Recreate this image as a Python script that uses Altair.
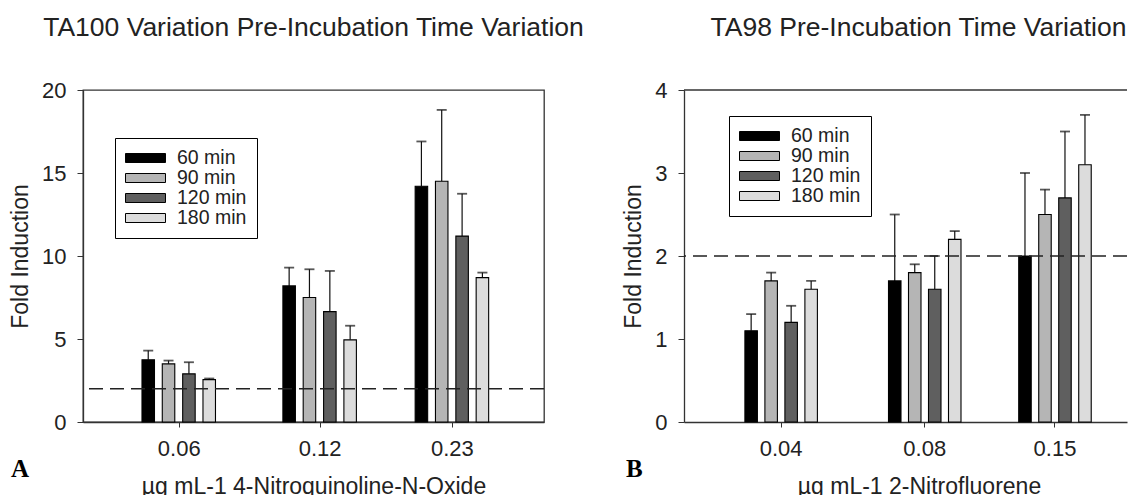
import altair as alt
import pandas as pd

times = ["60 min", "90 min", "120 min", "180 min"]
colors = ["#000000", "#b5b5b5", "#5f5f5f", "#dcdcdc"]

# Panel A: TA100, 4-Nitroquinoline-N-Oxide
doses_a = [0.06, 0.12, 0.23]
mean_a = {
    "60 min": [3.75, 8.2, 14.2],
    "90 min": [3.5, 7.5, 14.5],
    "120 min": [2.9, 6.65, 11.2],
    "180 min": [2.55, 4.95, 8.7],
}
sd_a = {
    "60 min": [0.55, 1.1, 2.7],
    "90 min": [0.2, 1.7, 4.3],
    "120 min": [0.7, 2.45, 2.55],
    "180 min": [0.07, 0.85, 0.3],
}

# Panel B: TA98, 2-Nitrofluorene
doses_b = [0.04, 0.08, 0.15]
mean_b = {
    "60 min": [1.1, 1.7, 2.0],
    "90 min": [1.7, 1.8, 2.5],
    "120 min": [1.2, 1.6, 2.7],
    "180 min": [1.6, 2.2, 3.1],
}
sd_b = {
    "60 min": [0.2, 0.8, 1.0],
    "90 min": [0.1, 0.1, 0.3],
    "120 min": [0.2, 0.4, 0.8],
    "180 min": [0.1, 0.1, 0.6],
}

titles = ["TA100 Variation Pre-Incubation Time Variation", "TA98 Pre-Incubation Time Variation"]
xtitles = ["\u00b5g mL-1 4-Nitroquinoline-N-Oxide", "\u00b5g mL-1 2-Nitrofluorene"]
letters = ["A", "B"]
threshold = [2]

FONT = "Liberation Sans"
INK = "#222222"
FRAME = "#333333"
PLOT_H = 332
RECT = "M-1,-0.225L1,-0.225L1,0.225L-1,0.225Z"


def panel(doses, means, sds, xdomain, width, ymax, yvals, offsets, title, xtitle,
          letter, letter_x, legend_xy, title_dx, xtitle_x, boxed):
    rows = []
    for t in times:
        for d, m, s in zip(doses, means[t], sds[t]):
            rows.append({"dose": d, "time": t, "mean": m, "sd": s})
    df = pd.DataFrame(rows)
    base = alt.Chart(df).transform_calculate(upper="datum.mean + datum.sd")

    x = alt.X(
        "dose:Q",
        scale=alt.Scale(type="log", domain=xdomain, nice=False),
        axis=alt.Axis(
            values=doses, format=".2f", title=xtitle, grid=False,
            labelFont=FONT, labelFontSize=22, labelColor=INK, labelPadding=11,
            tickSize=5, tickColor=FRAME, domainColor=FRAME, domainWidth=1.3,
            titleFont=FONT, titleFontSize=23, titleFontWeight="normal",
            titleColor=INK, titlePadding=16, titleX=xtitle_x,
        ),
    )
    yax = alt.Axis(
        values=yvals, format="d", title="Fold Induction", grid=False,
        labelFont=FONT, labelFontSize=22, labelColor=INK, labelPadding=11,
        tickSize=6, tickColor=FRAME, domainColor=FRAME, domainWidth=1.3,
        titleFont=FONT, titleFontSize=23, titleFontWeight="normal",
        titleColor=INK, titlePadding=9,
    )
    yscale = alt.Scale(domain=[0, ymax], nice=False, zero=True)
    color = alt.Color(
        "time:N",
        scale=alt.Scale(domain=times, range=colors),
        legend=alt.Legend(
            orient="none", legendX=legend_xy[0], legendY=legend_xy[1],
            title=None, symbolType=RECT, symbolSize=1600,
            symbolStrokeColor="black", symbolStrokeWidth=1,
            labelFont=FONT, labelFontSize=19.5, labelColor=INK,
            labelOffset=11, rowPadding=0, padding=10, clipHeight=20,
            strokeColor="black", fillColor="white",
            labelExpr="datum.label + '   '",
        ),
    )

    layers = []
    for t, off in zip(times, offsets):
        b = base.transform_filter(alt.datum.time == t)
        layers.append(
            b.mark_rule(xOffset=off, strokeWidth=1.2, color="#111111").encode(
                x=x, y=alt.Y("mean:Q", scale=yscale, axis=yax), y2="upper:Q"
            )
        )
        layers.append(
            b.mark_tick(xOffset=off, orient="horizontal", size=10, thickness=1.8,
                        color="#111111").encode(
                x=x, y=alt.Y("upper:Q", scale=yscale, axis=yax)
            )
        )
        layers.append(
            b.mark_bar(xOffset=off, width=12.5, orient="vertical", stroke="black",
                       strokeWidth=1.1, opacity=1).encode(
                x=x, y=alt.Y("mean:Q", scale=yscale, axis=yax), color=color
            )
        )

    dash = alt.Chart(pd.DataFrame({"v": threshold})).mark_rule(
        color="#222222", strokeWidth=1.4, strokeDash=[14, 7]
    ).encode(y=alt.Y("v:Q", scale=yscale, axis=yax))

    lab = alt.Chart(pd.DataFrame({"t": [letter]})).mark_text(
        align="left", baseline="alphabetic", font="Liberation Serif",
        fontWeight="bold", fontSize=25, color="black"
    ).encode(x=alt.value(letter_x), y=alt.value(387), text="t:N")

    parts = layers + [dash, lab]
    props = dict(
        width=width, height=PLOT_H,
        title=alt.TitleParams(
            text=title, font=FONT, fontSize=26.5, fontWeight="normal",
            color=INK, anchor="middle", baseline="alphabetic", offset=16.5,
            dx=title_dx,
        ),
    )
    if boxed:
        props["view"] = alt.ViewBackground(stroke=FRAME, strokeWidth=1.3)
    else:
        top = alt.Chart(pd.DataFrame({"v": [ymax]})).mark_rule(
            color=FRAME, strokeWidth=1.3
        ).encode(y=alt.Y("v:Q", scale=yscale, axis=yax))
        parts.append(top)
        props["view"] = alt.ViewBackground(stroke="transparent")
    return alt.layer(*parts).properties(**props)


left = panel(doses_a, mean_a, sd_a, [0.0384, 0.353], 461, 20, [0, 5, 10, 15, 20],
             [-30.5, -10.2, 10.2, 30.5], titles[0], xtitles[0], letters[0], -72,
             (32, 48), 0, 230.5, True)
right = panel(doses_b, mean_b, sd_b, [0.0257, 0.2078], 443, 4, [0, 1, 2, 3, 4],
              [-29.5, -9.5, 10.5, 30.5], titles[1], xtitles[1], letters[1], -58,
              (45, 26), 13, 235, False)

chart = alt.hconcat(left, right, spacing=140, bounds="flush").resolve_scale(
    x="independent", y="independent", color="independent"
).resolve_legend(color="independent").properties(
    padding={"left": 0, "top": 6, "right": 0, "bottom": 0}, background="white"
).configure_view(stroke=FRAME, strokeWidth=1.3)

chart.save("out.html", embed_options={"renderer": "svg", "actions": False})
